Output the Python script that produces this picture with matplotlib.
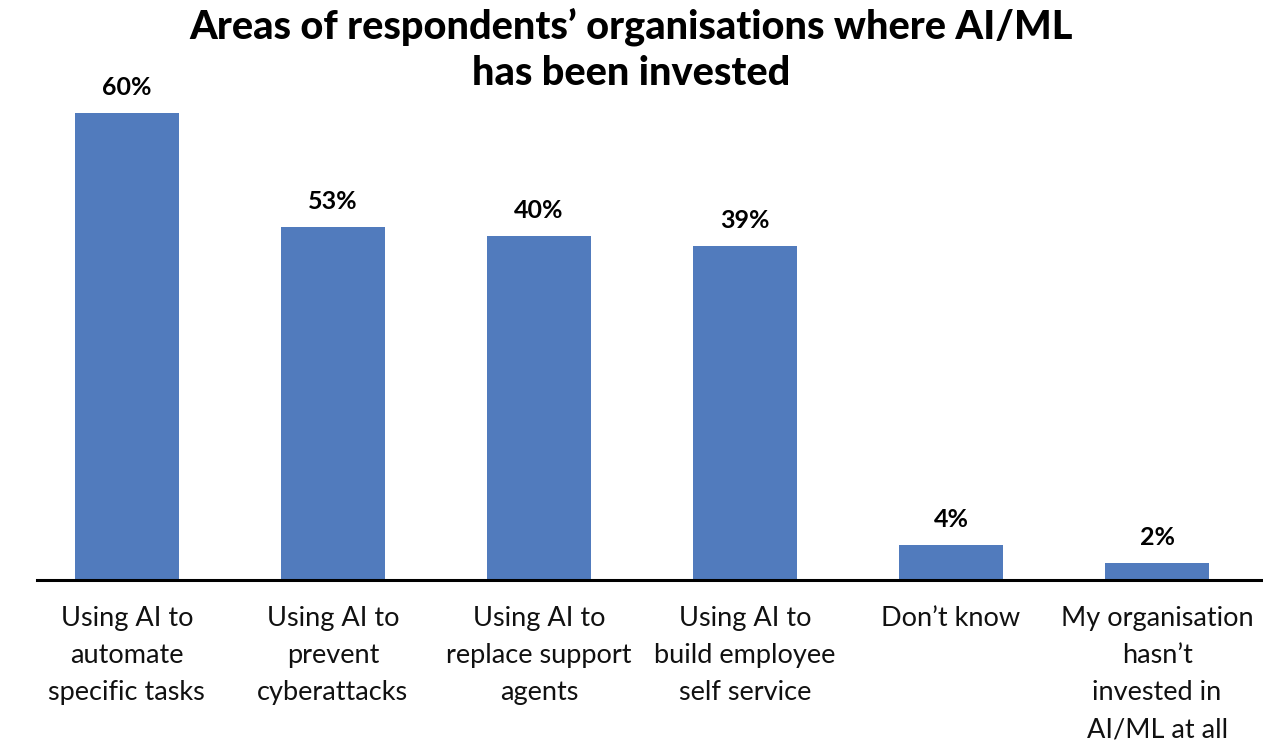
import matplotlib
matplotlib.use("Agg")
import matplotlib.pyplot as plt

categories = ["Using AI to\nautomate\nspecific tasks",
              "Using AI to\nprevent\ncyberattacks",
              "Using AI to\nreplace support\nagents",
              "Using AI to\nbuild employee\nself service",
              "Don\u2019t know",
              "My organisation\nhasn\u2019t\ninvested in\nAI/ML at all"]
# bar heights as drawn in the picture (not proportional to the printed labels)
heights = [60, 45.4, 44.2, 42.9, 4.5, 2.2]
labels = ["60%", "53%", "40%", "39%", "4%", "2%"]

plt.rcParams['font.family'] = ['Lato', 'DejaVu Sans']

fig = plt.figure(figsize=(12.63, 7.40), dpi=100)
ax = fig.add_axes([37/1263, 1 - 580/740, 1 - 37/1263, (580 - 113)/740])

x = list(range(len(categories)))
ax.bar(x, heights, width=0.505, color='#517BBD')
for xi, h, lab in zip(x, heights, labels):
    ax.annotate(lab, (xi, h), xytext=(0, 10), textcoords='offset points',
                ha='center', va='bottom', fontsize=18, fontweight='bold',
                annotation_clip=False)

ax.set_xlim(-0.436, 5.514)
ax.set_ylim(0, 60)
ax.set_xticks(x)
ax.set_xticklabels(categories, fontsize=19.5, color='#111111', linespacing=1.6)
ax.tick_params(axis='x', length=0, pad=19)
ax.set_yticks([])
for s in ['top', 'right', 'left']:
    ax.spines[s].set_visible(False)
ax.spines['bottom'].set_linewidth(2.2)
ax.spines['bottom'].set_color('black')

fig.text(0.5, 0.99, "Areas of respondents\u2019 organisations where AI/ML\nhas been invested",
         ha='center', va='top', fontsize=28.5, fontweight='black', linespacing=1.3)

fig.savefig("out.png", dpi=100)
